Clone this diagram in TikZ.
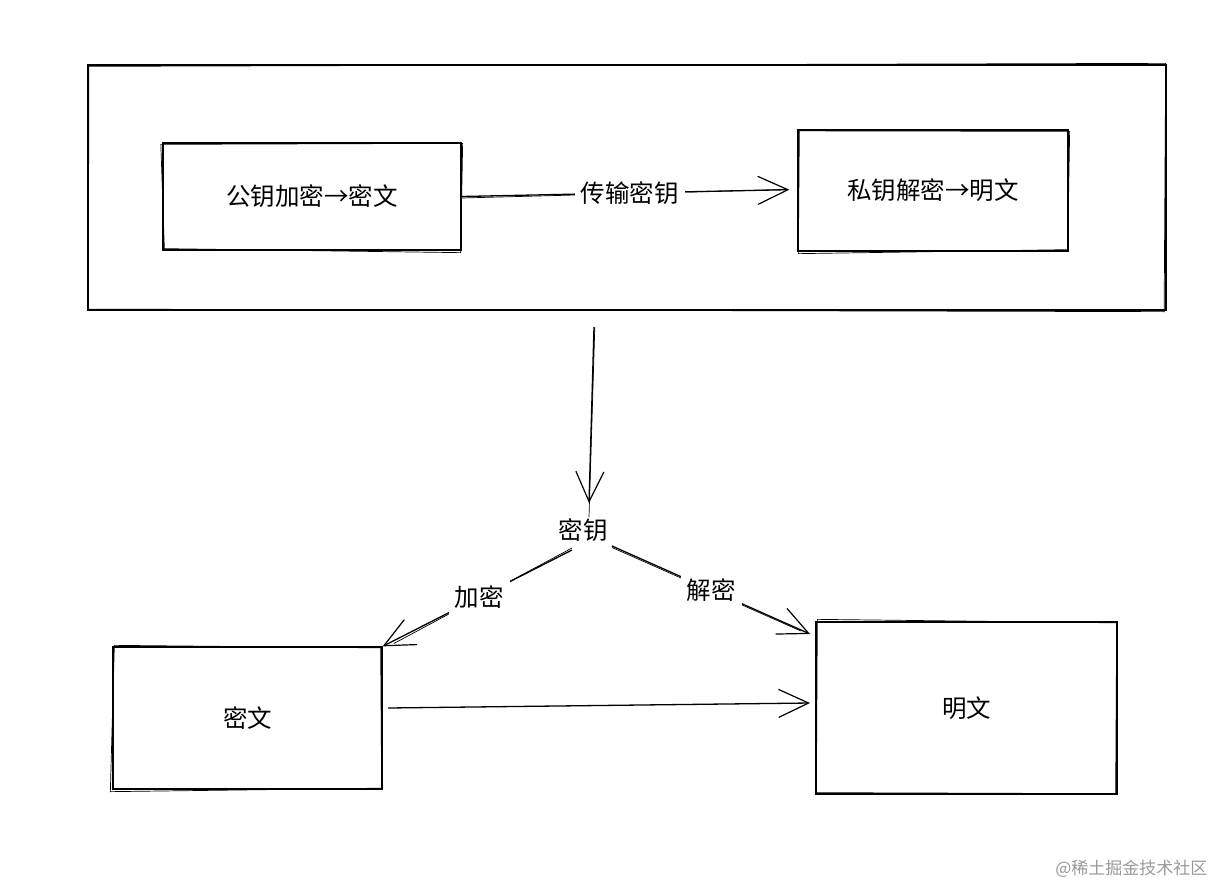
\documentclass[tikz,border=0pt]{standalone}
\usepackage{fontspec}
\newfontfamily\cjk{Noto Sans CJK SC}
\usetikzlibrary{arrows.meta}
\tikzset{
  sk/.style={line width=1.3pt, black},
  sk2/.style={line width=0.7pt, black},
  boxnode/.style={draw, sk, inner sep=0pt},
  txt/.style={font=\cjk\fontsize{24.5}{28}\selectfont, inner sep=1pt},
  lbl/.style={font=\cjk\fontsize{24.5}{28}\selectfont, fill=white, inner sep=6pt},
  barb/.style={-{Straight Barb[length=30pt,width=28pt,line width=1.2pt]}},
  wm/.style={font=\cjk\fontsize{17}{20}\selectfont, text=black!40}
}
\begin{document}
\begin{tikzpicture}[x=1pt,y=-1pt]
\useasboundingbox (0,0) rectangle (1215,886);
% nodes
\node[boxnode, minimum width=1078pt, minimum height=245pt] (outer) at (627,187.5) {};
\node[boxnode, minimum width=298pt, minimum height=107pt] (pub) at (312,196.5) {};
\node[boxnode, minimum width=270pt, minimum height=121pt] (priv) at (933,190.5) {};
\node[boxnode, minimum width=269pt, minimum height=142pt] (cipher) at (247.5,718) {};
\node[boxnode, minimum width=301pt, minimum height=172pt] (plain) at (966.5,708) {};
\coordinate (vtop) at (594,327);
\coordinate (keyin) at (589,503);
\coordinate (keyL) at (572,550);
\coordinate (keyR) at (612,546);
\coordinate (plainin) at (810,634);
\coordinate (cipherout) at (388,708);
\coordinate (plainleft) at (810,703);
% sketch second strokes
\draw[sk2] ([shift={(1.5,2)}]outer.north west) -- ([shift={(-1,-1)}]outer.north east) -- ([shift={(-2.5,1)}]outer.south east) -- ([shift={(1,-1.5)}]outer.south west) -- cycle;
\draw[sk2] ([shift={(-1.5,2)}]pub.north west) -- ([shift={(1,1)}]pub.north east) -- ([shift={(-1,2)}]pub.south east) -- ([shift={(2,-2)}]pub.south west) -- cycle;
\draw[sk2] ([shift={(2,1.5)}]priv.north west) -- ([shift={(1,2)}]priv.north east) -- ([shift={(-1,-2)}]priv.south east) -- ([shift={(1,2)}]priv.south west) -- cycle;
\draw[sk2] ([shift={(2,-1)}]cipher.north west) -- ([shift={(-2,1.5)}]cipher.north east) -- ([shift={(-1,-1.5)}]cipher.south east) -- ([shift={(-2,2)}]cipher.south west) -- cycle;
\draw[sk2] ([shift={(2,-2)}]plain.north west) -- ([shift={(-1,1.5)}]plain.north east) -- ([shift={(-2,-1)}]plain.south east) -- ([shift={(1,-2)}]plain.south west) -- cycle;
\draw[sk2] ([yshift=-1.5pt]pub.east) -- ([shift={(-12,-1)}]priv.west);
\draw[sk2] ([xshift=0.8pt]vtop) -- ([yshift=-14pt]keyin);
\draw[sk2, shorten >=8pt] ([yshift=2pt]keyL) -- ([shift={(4,1)}]cipher.north east);
\draw[sk2, shorten >=10pt] ([yshift=-1.5pt]keyR) -- ([yshift=-1pt]plainin);
% connectors
\draw[sk, barb, shorten >=8pt] (pub.east) -- node[lbl, pos=0.5] (lt) {传输密钥} ([yshift=1pt]priv.west);
\draw[sk, barb] (vtop) -- (keyin);
\node[txt] (key) at (583,530) {密钥};
\draw[sk, barb] (keyL) -- node[lbl, pos=0.49] (le) {加密} (cipher.north east);
\draw[sk, barb] (keyR) -- node[lbl, pos=0.5] (ld) {解密} (plainin);
\draw[sk, barb] (cipherout) -- (plainleft);
% texts
\node[txt] at (pub.center) {公钥加密→密文};
\node[txt] at (priv.center) {私钥解密→明文};
\node[txt] at (cipher.center) {密文};
\node[txt] at (plain.center) {明文};
\node[wm, anchor=east] (wmark) at (1211,869) {@稀土掘金技术社区};
\end{tikzpicture}
\end{document}
